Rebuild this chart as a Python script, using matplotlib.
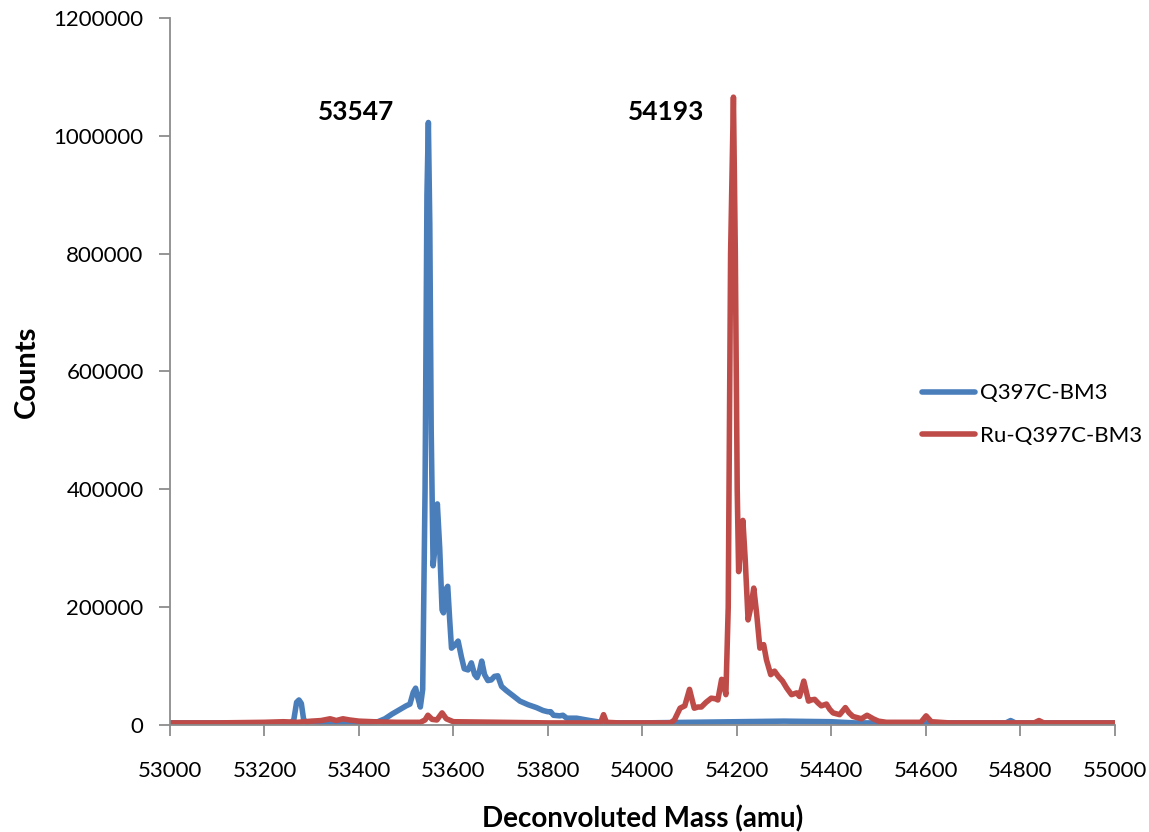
import matplotlib.pyplot as plt
from matplotlib.ticker import MultipleLocator, FuncFormatter

plt.rcParams['font.family'] = ['Lato', 'DejaVu Sans']

# Q397C-BM3 (blue) deconvoluted spectrum
blue_mass = [53000, 53100, 53200, 53255, 53262, 53268, 53273, 53278, 53283, 53290,
             53300, 53350, 53400, 53440, 53455, 53470, 53485, 53500, 53508, 53515,
             53520, 53525, 53530, 53535, 53540, 53544, 53547, 53550, 53553, 53557,
             53561, 53566, 53571, 53576, 53579, 53584, 53588, 53592, 53596, 53603,
             53610, 53617, 53623, 53631, 53638, 53645, 53650, 53655, 53660, 53666,
             53673, 53680, 53687, 53694, 53702, 53712, 53725, 53741, 53758, 53776,
             53790, 53800, 53806, 53812, 53825, 53832, 53840, 53861, 53875, 53889,
             53905, 53917, 53950, 54000, 54100, 54200, 54300, 54400, 54450, 54500,
             54770, 54780, 54790, 55000]
blue_counts = [3000, 3000, 3000, 3000, 8000, 38000, 42000, 36000, 8000, 4000,
               5000, 3000, 3000, 5000, 10000, 18000, 25000, 32000, 35000, 55000,
               62000, 45000, 30000, 60000, 400000, 900000, 1023000, 850000, 500000, 270000,
               300000, 375000, 300000, 195000, 190000, 230000, 235000, 180000, 130000, 135000,
               142000, 115000, 95000, 93000, 105000, 85000, 80000, 90000, 108000, 85000,
               75000, 76000, 82000, 83000, 65000, 58000, 50000, 40000, 34000, 29000,
               24000, 22000, 22000, 16000, 15000, 16000, 11000, 11000, 9000, 7000,
               5000, 3000, 3000, 3000, 4000, 5000, 6000, 5000, 3000, 3000,
               3000, 7000, 3000, 3000]

# Ru-Q397C-BM3 (red)
red_mass = [53000, 53100, 53200, 53240, 53270, 53300, 53320, 53339, 53352, 53366,
            53380, 53400, 53430, 53480, 53530, 53540, 53546, 53555, 53565, 53576,
            53585, 53600, 53700, 53800, 53900, 53912, 53918, 53924, 53950, 54000,
            54060, 54068, 54080, 54090, 54100, 54110, 54118, 54125, 54135, 54146,
            54155, 54160, 54168, 54172, 54177, 54182, 54187, 54193, 54197, 54201,
            54204, 54208, 54213, 54218, 54224, 54230, 54236, 54242, 54249, 54257,
            54263, 54272, 54280, 54288, 54297, 54306, 54316, 54327, 54333, 54342,
            54352, 54358, 54365, 54372, 54379, 54390, 54397, 54404, 54418, 54430,
            54438, 54446, 54455, 54464, 54476, 54489, 54500, 54517, 54590, 54601,
            54612, 54650, 54830, 54840, 54850, 55000]
red_counts = [3000, 3000, 4000, 5000, 4000, 6000, 7000, 10000, 7000, 10000,
              8000, 6000, 5000, 4000, 4000, 8000, 16000, 9000, 8000, 20000,
              10000, 5000, 4000, 3000, 3000, 4000, 17000, 4000, 3000, 3000,
              3000, 8000, 28000, 32000, 60000, 28000, 30000, 30000, 38000, 45000,
              44000, 42000, 77000, 70000, 51000, 200000, 800000, 1066000, 800000, 400000,
              260000, 300000, 347000, 280000, 178000, 200000, 232000, 190000, 130000, 136000,
              110000, 85000, 91000, 82000, 74000, 62000, 51000, 54000, 48000, 74000,
              40000, 42000, 43000, 37000, 32000, 35000, 26000, 20000, 17000, 29000,
              20000, 14000, 12000, 10000, 16000, 10000, 6000, 4000, 4000, 15000,
              5000, 3000, 3000, 7000, 3000, 3000]

peak_labels = ['53547', '54193']
label_mass = [53394, 54050]
label_counts = [1040000, 1040000]

fig = plt.figure(figsize=(11.49, 8.32), dpi=100)
ax = fig.add_axes([0.148, 0.129, 0.822, 0.849])

ax.plot(blue_mass, blue_counts, color='#4A7EBB', lw=4.0, solid_joinstyle='round',
        solid_capstyle='round', label='Q397C-BM3')
ax.plot(red_mass, red_counts, color='#BE4B48', lw=4.0, solid_joinstyle='round',
        solid_capstyle='round', label='Ru-Q397C-BM3')

for txt, mx, my in zip(peak_labels, label_mass, label_counts):
    ax.text(mx, my, txt, ha='center', va='center', fontsize=19, fontweight='bold')

ax.set_xlim(53000, 55000)
ax.set_ylim(0, 1200000)
ax.xaxis.set_major_locator(MultipleLocator(200))
ax.yaxis.set_major_locator(MultipleLocator(200000))
ax.yaxis.set_major_formatter(FuncFormatter(lambda v, p: '%d' % v))
ax.xaxis.set_major_formatter(FuncFormatter(lambda v, p: '%d' % v))

for s in ['top', 'right']:
    ax.spines[s].set_visible(False)
for s in ['left', 'bottom']:
    ax.spines[s].set_color('#8c8c8c')
    ax.spines[s].set_linewidth(1.3)
ax.tick_params(axis='both', direction='out', length=8, width=1.3, color='#8c8c8c',
               labelsize=16)
ax.tick_params(axis='x', pad=18)
ax.tick_params(axis='y', pad=11)

ax.set_xlabel('Deconvoluted Mass (amu)', fontsize=20, fontweight='bold', labelpad=18)
ax.set_ylabel('Counts', fontsize=21, fontweight='bold', labelpad=10)

ax.legend(loc='center left', bbox_to_anchor=(0.796, 0.439), frameon=False, fontsize=16,
          handlelength=2.4, handletextpad=0.2, labelspacing=1.0, borderpad=0,
          borderaxespad=0)

fig.savefig('out.png', dpi=100)
